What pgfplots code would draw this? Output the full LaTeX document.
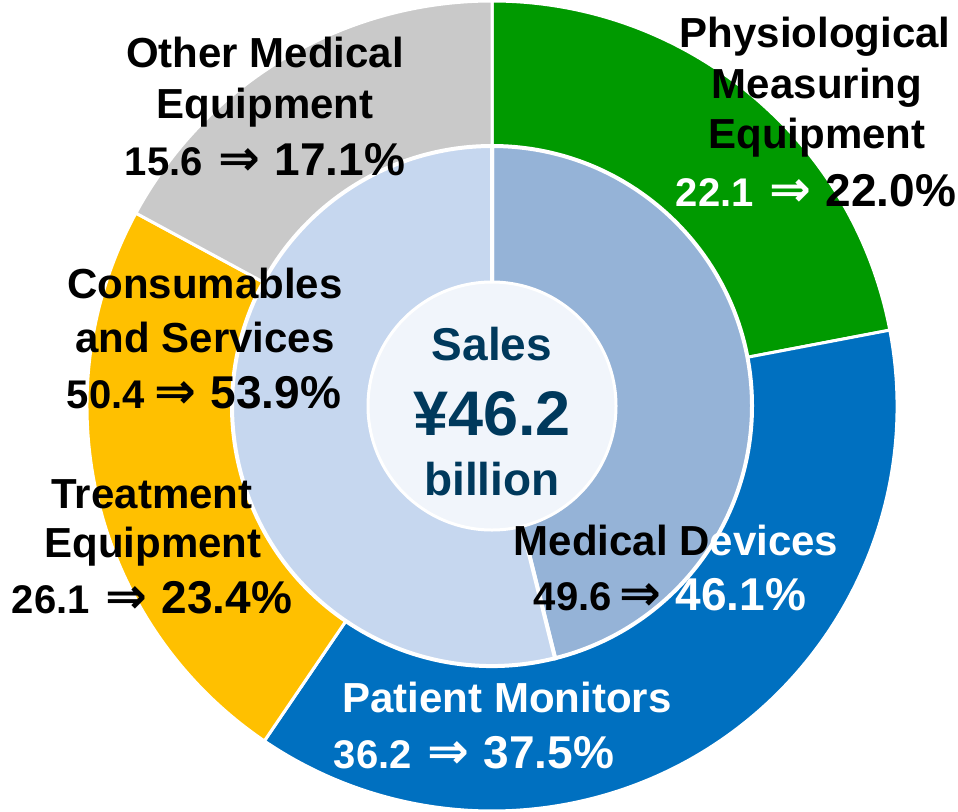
\documentclass[border=0pt]{standalone}
\usepackage{pgfplots}
\pgfplotsset{compat=1.18}
\usepackage{pgfplotstable}
\usepackage{fontspec}
\setmainfont{Liberation Sans}
\newfontfamily\arrowfont{DejaVu Sans}

\definecolor{physio}{HTML}{009A00}
\definecolor{patient}{HTML}{0070C0}
\definecolor{treat}{HTML}{FFC000}
\definecolor{other}{HTML}{C9C9C9}
\definecolor{devices}{HTML}{95B3D7}
\definecolor{consum}{HTML}{C6D7EF}
\definecolor{hub}{HTML}{F1F5FB}
\definecolor{navy}{HTML}{00395C}

\newcommand\lab{\fontsize{21}{25}\selectfont\bfseries}
\newcommand\num{\fontsize{20}{24}\selectfont\bfseries}
\newcommand\pct{\fontsize{23}{27}\selectfont\bfseries}
% arrow with the gap before it as argument
\newcommand\arr[1]{\hspace{#1}{\arrowfont\fontsize{25}{25}\selectfont\bfseries ⇒}\hspace{7pt}}
\tikzset{lbl/.style={inner sep=0pt, anchor=base}}

% share of sales (%), clockwise from 12 o'clock
\pgfplotstableread[col sep=comma]{
share,col
22.0,physio
37.5,patient
23.4,treat
17.1,other
}\outertable
\pgfplotstableread[col sep=comma]{
share,col
46.1,devices
53.9,consum
}\innertable

\begin{document}
\begin{tikzpicture}
\begin{axis}[
    x=0.5pt, y=0.5pt,
    xmin=0, xmax=958, ymin=0, ymax=811,
    axis lines=none, ticks=none,
    clip=true,
]
\fill[white] (axis cs:0,0) rectangle (axis cs:958,811);

% outer ring (wedges, later covered in the middle)
\def\startangle{90}
\pgfplotsforeachungrouped \i in {0,...,3} {
  \pgfplotstablegetelem{\i}{share}\of\outertable \let\share\pgfplotsretval
  \pgfplotstablegetelem{\i}{col}\of\outertable \let\col\pgfplotsretval
  \pgfmathsetmacro\endangle{\startangle-3.6*\share}
  \edef\temp{\noexpand\fill[\col, draw=white, line width=1.5pt]
    (axis cs:492,405) -- ++(\startangle:202.5pt)
    arc[start angle=\startangle, end angle=\endangle, radius=202.5pt] -- cycle;}
  \temp
  \global\let\startangle\endangle
}

% inner ring
\def\startangle{90}
\pgfplotsforeachungrouped \i in {0,1} {
  \pgfplotstablegetelem{\i}{share}\of\innertable \let\share\pgfplotsretval
  \pgfplotstablegetelem{\i}{col}\of\innertable \let\col\pgfplotsretval
  \pgfmathsetmacro\endangle{\startangle-3.6*\share}
  \edef\temp{\noexpand\fill[\col, draw=white, line width=2pt]
    (axis cs:492,405) -- ++(\startangle:130pt)
    arc[start angle=\startangle, end angle=\endangle, radius=130pt] -- cycle;}
  \temp
  \global\let\startangle\endangle
}

\fill[hub, draw=white, line width=1.5pt] (axis cs:492,405) circle[radius=62pt];

% centre
\node[lbl, text=navy] at (axis cs:492,451) {\fontsize{23}{27}\selectfont\bfseries Sales};
\node[lbl, text=navy] at (axis cs:492,376) {\fontsize{31.5}{36}\selectfont\bfseries ¥46.2};
\node[lbl, text=navy] at (axis cs:492,316) {\fontsize{23}{27}\selectfont\bfseries billion};

% Other Medical Equipment
\node[lbl] at (axis cs:265,744) {\lab Other Medical};
\node[lbl] at (axis cs:265,693) {\lab Equipment};
\node[lbl] at (axis cs:265,636) {\num 15.6\arr{8pt}\pct 17.1\%};

% Physiological Measuring Equipment
\node[lbl] at (axis cs:815,763) {\lab Physiological};
\node[lbl] at (axis cs:817,713) {\lab Measuring};
\node[lbl] at (axis cs:817,663) {\lab Equipment};
\node[lbl] at (axis cs:816,605) {\num\color{white}22.1\arr{8pt}{\pct\color{black}22.0\%}};

% Consumables and Services
\node[lbl] at (axis cs:205,513) {\lab Consumables};
\node[lbl] at (axis cs:205,459) {\lab and Services};
\node[lbl] at (axis cs:204,403) {\num 50.4\arr{5pt}\pct 53.9\%};

% Treatment Equipment
\node[lbl] at (axis cs:152,303) {\lab Treatment};
\node[lbl] at (axis cs:153,254) {\lab Equipment};
\node[lbl] at (axis cs:152,198) {\num 26.1\arr{8pt}\pct 23.4\%};

% Medical Devices
\node[lbl] at (axis cs:676,256) {\lab Medical D{\color{white}evices}};
\node[lbl] at (axis cs:670,201) {\num 49.6\arr{4pt}{\pct\color{white}46.1\%}};

% Patient Monitors
\node[lbl, text=white] at (axis cs:507,99) {\lab Patient Monitors};
\node[lbl, text=white] at (axis cs:474,43) {\num 36.2\arr{8pt}\pct 37.5\%};
\end{axis}
\end{tikzpicture}
\end{document}
